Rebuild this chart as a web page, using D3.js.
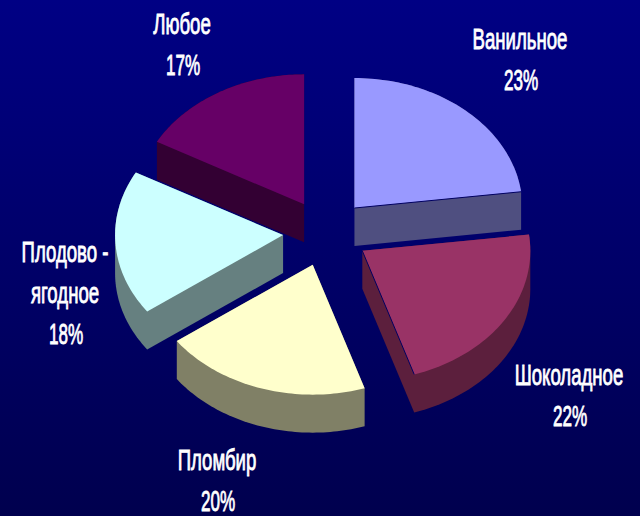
<!DOCTYPE html>
<html><head><meta charset="utf-8">
<script src="https://cdnjs.cloudflare.com/ajax/libs/d3/7.8.5/d3.min.js"></script>
<style>html,body{margin:0;padding:0;background:#000060}svg{display:block}</style>
</head><body><svg id="c" width="640" height="516"></svg>
<script>
const categories = ["Ванильное","Шоколадное","Пломбир","Плодово - ягодное","Любое"];
const values = [23,22,20,18,17];
const topColors = ["#9999ff","#993366","#ffffcc","#ccffff","#660066"];
const wallColors = ["#4f4f80","#5c1f3d","#808066","#668080","#330033"];
const edgedSlices = ["Ванильное","Шоколадное"];

const W=640,H=516,cx=326,cy=233,rx=168,ry=130,depth=38,explode=43/168;
const labelAnchors=[[520,49],[569,385],[217,470],[65,262],[182,34]];
const lineGap=41;

const svg=d3.select("#c");
const defs=svg.append("defs");
const g=defs.append("linearGradient").attr("id","bg").attr("x1",0).attr("x2",0).attr("y1",0).attr("y2",1);
g.append("stop").attr("offset",0).attr("stop-color","#000084");
g.append("stop").attr("offset",1).attr("stop-color","#00004e");
svg.append("rect").attr("width",W).attr("height",H).attr("fill","url(#bg)");

const x=d3.scaleLinear().domain([-1,1]).range([cx-rx,cx+rx]);
const y=d3.scaleLinear().domain([-1,1]).range([cy-ry,cy+ry]);
const pie=d3.pie().sort(null).startAngle(0).endAngle(2*Math.PI);
const arcs=pie(values);
const line=d3.line().curve(d3.curveLinearClosed);

function outline(a){
  const mid=(a.startAngle+a.endAngle)/2;
  const ox=explode*Math.sin(mid), oy=-explode*Math.cos(mid);
  const pts=[[x(ox),y(oy)]];
  const n=60;
  d3.range(n+1).forEach(i=>{
    const t=a.startAngle+(a.endAngle-a.startAngle)*i/n;
    pts.push([x(ox+Math.sin(t)),y(oy-Math.cos(t))]);
  });
  return pts;
}
const order=[4,0,3,1,2];
order.forEach(i=>{
  const pts=outline(arcs[i]);
  const hull=d3.polygonHull(pts.concat(pts.map(p=>[p[0],p[1]+depth])));
  svg.append("path").attr("d",line(hull)).attr("fill",wallColors[i]);
  svg.append("path").attr("d",line(pts)).attr("fill",topColors[i]);
  if(edgedSlices.includes(categories[i])){
    svg.append("line").attr("x1",pts[0][0]).attr("y1",pts[0][1])
      .attr("x2",pts[pts.length-1][0]).attr("y2",pts[pts.length-1][1])
      .attr("stroke","#000060").attr("stroke-width",1);
  }
});

categories.forEach((c,i)=>{
  const names=c.replace(" - "," -|").split("|");
  const lines=names.concat([values[i]+"%"]);
  lines.forEach((l,k)=>{
    const isPct=k===names.length;
    const tx=labelAnchors[i][0]+(isPct?1:0);
    svg.append("text").attr("text-anchor","middle")
      .attr("transform",`translate(${tx},${labelAnchors[i][1]+k*lineGap}) scale(${isPct?0.57:0.62},1)`)
      .attr("font-family","'Liberation Sans',sans-serif")
      .attr("font-size",30).attr("fill","#fff").attr("stroke","#fff").attr("stroke-width",0.9)
      .text(l);
  });
});
</script></body></html>
